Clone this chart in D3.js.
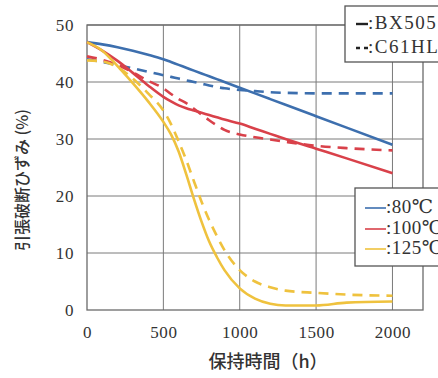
<!DOCTYPE html>
<html><head><meta charset="utf-8">
<script src="https://cdn.jsdelivr.net/npm/d3@7"></script>
<style>
html,body{margin:0;padding:0;background:#fff;overflow:hidden;}
svg{display:block;}
</style></head>
<body>
<svg id="chart" width="438" height="378"></svg>
<script>
// ---- data ----
const hours = [0,100,200,300,400,500,550,600,650,700,750,800,850,900,1000,1100,1200,1300,1500,1700,2000];
const bx505_80  = [47,46.6,46.1,45.5,44.8,44.0,43.5,43.0,42.5,42.0,41.5,41.0,40.5,40.0,39.0,38.0,37.0,36.0,34.0,32.0,29.0];
const c61hl_80  = [44,43.5,43.0,42.4,41.8,41.2,40.9,40.6,40.3,40.0,39.7,39.4,39.1,38.9,38.6,38.4,38.2,38.1,38.0,38.0,38.0];
const bx505_100 = [47,45.5,43.7,41.6,39.4,37.4,36.6,35.9,35.4,35.0,34.6,34.2,33.8,33.4,32.7,31.8,30.9,30.0,28.3,26.6,24.0];
const c61hl_100 = [44.5,43.9,43.0,41.7,40.2,38.9,37.9,37.0,36.3,35.3,34.3,33.3,32.4,31.6,30.8,30.3,29.9,29.5,28.8,28.4,28.0];
const bx505_125 = [47,45.5,42.8,39.8,36.6,33.0,30.8,27.8,23.8,19.5,15.5,12.0,9.3,7.0,3.8,2.0,1.1,0.8,0.8,1.3,1.5];
const c61hl_125 = [43.8,43.6,42.6,40.6,38.0,35.0,32.6,29.6,26.3,22.6,19.0,15.8,13.0,10.5,7.0,5.0,4.0,3.4,3.0,2.7,2.5];
const xTicks = [0,500,1000,1500,2000];
const yTicks = [0,10,20,30,40,50];
const tempLabels = [":80\u2103", ":100\u2103", ":125\u2103"];
const materialLabels = [":BX505", ":C61HL"];
const tempColors = ["#3d6fae", "#d9414a", "#efc23e"];

const series = [
  {vals: bx505_80,  color: tempColors[0], dash: null},
  {vals: c61hl_80,  color: tempColors[0], dash: "10,7"},
  {vals: bx505_100, color: tempColors[1], dash: null},
  {vals: c61hl_100, color: tempColors[1], dash: "10,7"},
  {vals: bx505_125, color: tempColors[2], dash: null},
  {vals: c61hl_125, color: tempColors[2], dash: "10,7"},
];

// ---- layout ----
const svg = d3.select("#chart");
const L = 87, R = 423, T = 25, B = 310;
const x = d3.scaleLinear().domain([0, 2200]).range([L, R]);
const y = d3.scaleLinear().domain([0, 50]).range([B, T]);
const gridColor = "#7a7a7a";
const serif = "'Liberation Serif','DejaVu Serif',serif";

// grid
svg.append("g").selectAll("line.v").data(xTicks.slice(1)).join("line")
  .attr("x1", d => x(d)).attr("x2", d => x(d)).attr("y1", T).attr("y2", B)
  .attr("stroke", gridColor).attr("stroke-width", 1);
svg.append("g").selectAll("line.h").data(yTicks.slice(1)).join("line")
  .attr("x1", L).attr("x2", R).attr("y1", d => y(d)).attr("y2", d => y(d))
  .attr("stroke", gridColor).attr("stroke-width", 1);
// frame
svg.append("rect").attr("x", L).attr("y", T).attr("width", R - L).attr("height", B - T)
  .attr("fill", "none").attr("stroke", "#6a6a6a").attr("stroke-width", 1.3);

// axes labels
const xAxis = d3.axisBottom(x).tickValues(xTicks).tickFormat(d3.format("d")).tickSize(0).tickPadding(16);
const gx = svg.append("g").attr("transform", `translate(0,${B})`).call(xAxis);
gx.select(".domain").remove();
gx.selectAll("text").attr("font-family", serif).attr("font-size", 17).attr("letter-spacing", 0.6).attr("fill", "#333");

const yAxis = d3.axisLeft(y).tickValues(yTicks).tickFormat(d3.format("d")).tickSize(0).tickPadding(13);
const gy = svg.append("g").attr("transform", `translate(${L},0)`).call(yAxis);
gy.select(".domain").remove();
gy.selectAll("text").attr("font-family", serif).attr("font-size", 17).attr("letter-spacing", 0.6).attr("fill", "#333");

// lines
const line = d3.line().x((d, i) => x(hours[i])).y(d => y(d)).curve(d3.curveMonotoneX);
svg.append("g").selectAll("path").data(series).join("path")
  .attr("d", d => line(d.vals))
  .attr("fill", "none")
  .attr("stroke", d => d.color)
  .attr("stroke-width", 2.6)
  .attr("stroke-dasharray", d => d.dash);

// titles
const jp = "'Noto Sans CJK JP','Noto Sans',sans-serif";
svg.append("text").attr("x", 268).attr("y", 363).attr("text-anchor", "middle")
  .attr("dominant-baseline", "middle")
  .attr("font-family", jp).attr("font-size", 18).attr("font-weight", 500).attr("fill", "#333")
  .text("保持時間（h）");
svg.append("text").attr("transform", "translate(24,180) rotate(-90)")
  .attr("text-anchor", "middle").attr("dominant-baseline", "middle")
  .attr("font-family", jp).attr("font-size", 16).attr("font-weight", 500).attr("fill", "#333")
  .text("引張破断ひずみ (%)");

// legend 1 (material)
const lg1 = svg.append("g");
lg1.append("rect").attr("x", 345).attr("y", 6).attr("width", 120).attr("height", 56)
  .attr("fill", "#fff").attr("stroke", "#555").attr("stroke-width", 1.3);
const matRows = [24, 48];
lg1.selectAll("line.m").data(materialLabels).join("line")
  .attr("x1", 356).attr("x2", 368).attr("y1", (d, i) => matRows[i]).attr("y2", (d, i) => matRows[i])
  .attr("stroke", "#222").attr("stroke-width", 2.4)
  .attr("stroke-dasharray", (d, i) => i === 1 ? "4,4" : null);
lg1.selectAll("text").data(materialLabels).join("text")
  .attr("x", 368).attr("y", (d, i) => matRows[i] + 1).attr("dominant-baseline", "middle")
  .attr("font-family", serif).attr("font-size", 19).attr("letter-spacing", 1.5).attr("fill", "#333").text(d => d);

// legend 2 (temperature)
const lg2 = svg.append("g");
lg2.append("rect").attr("x", 355).attr("y", 188).attr("width", 110).attr("height", 78)
  .attr("fill", "#fff").attr("stroke", "#555").attr("stroke-width", 1.3);
const tRows = [208, 229, 249];
lg2.selectAll("line.t").data(tempLabels).join("line")
  .attr("x1", 365).attr("x2", 386).attr("y1", (d, i) => tRows[i]).attr("y2", (d, i) => tRows[i])
  .attr("stroke", (d, i) => tempColors[i]).attr("stroke-width", 1.6);
lg2.selectAll("text").data(tempLabels).join("text")
  .attr("x", 386).attr("y", (d, i) => tRows[i] + 1).attr("dominant-baseline", "middle")
  .attr("font-family", serif).attr("font-size", 19).attr("letter-spacing", 0.5).attr("fill", "#333").text(d => d);
</script>
</body></html>
